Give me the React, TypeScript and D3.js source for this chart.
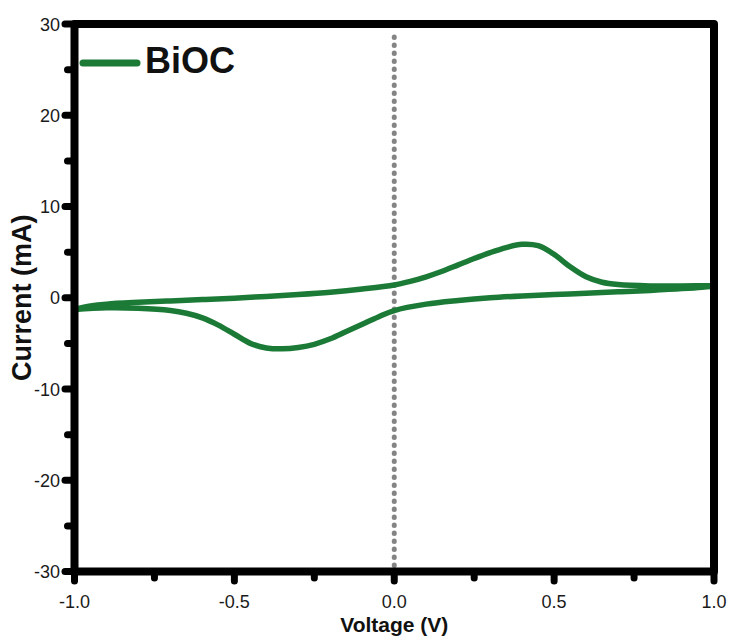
import React from "react";
import * as d3 from "d3";

const forwardV = [-1.0, -0.95, -0.9, -0.8, -0.7, -0.6, -0.5, -0.4, -0.3, -0.2, -0.1, 0.0, 0.05, 0.1, 0.15, 0.2, 0.25, 0.3, 0.35, 0.4, 0.45, 0.5, 0.55, 0.6, 0.65, 0.7, 0.8, 0.9, 1.0];
const forwardI = [-1.25, -0.9, -0.7, -0.5, -0.35, -0.2, -0.05, 0.15, 0.35, 0.6, 0.95, 1.4, 1.8, 2.3, 2.9, 3.6, 4.3, 4.95, 5.5, 5.85, 5.7, 4.75, 3.4, 2.3, 1.7, 1.45, 1.3, 1.3, 1.3];
const reverseV = [1.0, 0.9, 0.8, 0.7, 0.6, 0.5, 0.4, 0.3, 0.2, 0.1, 0.0, -0.05, -0.1, -0.15, -0.2, -0.25, -0.3, -0.35, -0.4, -0.45, -0.5, -0.55, -0.6, -0.65, -0.7, -0.8, -0.9, -1.0];
const reverseI = [1.3, 1.0, 0.8, 0.65, 0.5, 0.35, 0.2, 0.0, -0.3, -0.7, -1.4, -2.1, -2.9, -3.7, -4.5, -5.1, -5.45, -5.6, -5.5, -5.0, -4.0, -3.0, -2.2, -1.7, -1.4, -1.15, -1.1, -1.3];

const xMajorTicks = [-1.0, -0.5, 0.0, 0.5, 1.0];
const xMinorTicks = [-0.75, -0.25, 0.25, 0.75];
const yMajorTicks = [30, 20, 10, 0, -10, -20, -30];
const yMinorTicks = [25, 15, 5, -5, -15, -25];
const seriesName = "BiOC";

export default function App() {
  const x = d3.scaleLinear().domain([-1, 1]).range([74.5, 714]);
  const y = d3.scaleLinear().domain([-30, 30]).range([571.5, 24]);
  const green = "#1c7a37";

  const pts: [number, number][] = [
    ...forwardV.map((v, i) => [v, forwardI[i]] as [number, number]),
    ...reverseV.slice(1).map((v, i) => [v, reverseI[i + 1]] as [number, number]),
  ];
  const line = d3
    .line<[number, number]>()
    .x((d) => x(d[0]))
    .y((d) => y(d[1]))
    .curve(d3.curveCatmullRom.alpha(0.5));

  const font = "'Liberation Sans', Arial, sans-serif";

  return (
    <svg
      width={730}
      height={643}
      style={{ position: "absolute", left: 0, top: 0, background: "#fff" }}
    >
      {/* dotted zero line */}
      <line
        x1={x(0)}
        x2={x(0)}
        y1={37}
        y2={y(-30)}
        stroke="#858585"
        strokeWidth={5}
        strokeDasharray="0.5 7.5"
        strokeLinecap="round"
      />
      {/* curve */}
      <path d={line(pts) || ""} fill="none" stroke={green} strokeWidth={5.5} strokeLinejoin="round" />

      {/* frame */}
      <rect
        x={x(-1)}
        y={y(30)}
        width={x(1) - x(-1)}
        height={y(-30) - y(30)}
        fill="none"
        stroke="#000"
        strokeWidth={8}
        strokeLinejoin="round"
      />

      {/* y ticks */}
      {yMajorTicks.map((t) => (
        <g key={"ym" + t}>
          <line x1={x(-1)} x2={65} y1={y(t)} y2={y(t)} stroke="#000" strokeWidth={7} strokeLinecap="round" />
          <text x={60} y={y(t) + 6.5} textAnchor="end" fontFamily={font} fontSize={18} fill="#1a1a1a">
            {t}
          </text>
        </g>
      ))}
      {yMinorTicks.map((t) => (
        <line key={"yn" + t} x1={x(-1)} x2={67.5} y1={y(t)} y2={y(t)} stroke="#000" strokeWidth={7} strokeLinecap="round" />
      ))}

      {/* x ticks */}
      {xMajorTicks.map((t) => (
        <g key={"xm" + t}>
          <line x1={x(t)} x2={x(t)} y1={y(-30)} y2={581} stroke="#000" strokeWidth={7} strokeLinecap="round" />
          <text x={x(t)} y={608} textAnchor="middle" fontFamily={font} fontSize={18} fill="#1a1a1a">
            {t.toFixed(1)}
          </text>
        </g>
      ))}
      {xMinorTicks.map((t) => (
        <line key={"xn" + t} x1={x(t)} x2={x(t)} y1={y(-30)} y2={578} stroke="#000" strokeWidth={7} strokeLinecap="round" />
      ))}

      {/* axis titles */}
      <text x={x(0)} y={632} textAnchor="middle" fontFamily={font} fontWeight="bold" fontSize={21} fill="#111">
        Voltage (V)
      </text>
      <text
        transform={`translate(31, ${y(0)}) rotate(-90)`}
        textAnchor="middle"
        fontFamily={font}
        fontWeight="bold"
        fontSize={27}
        fill="#111"
      >
        Current (mA)
      </text>

      {/* legend */}
      <line x1={83} x2={137} y1={63} y2={63} stroke={green} strokeWidth={7} strokeLinecap="round" />
      <text x={145} y={73} fontFamily={font} fontWeight="bold" fontSize={36} fill="#111">
        {seriesName}
      </text>
    </svg>
  );
}
